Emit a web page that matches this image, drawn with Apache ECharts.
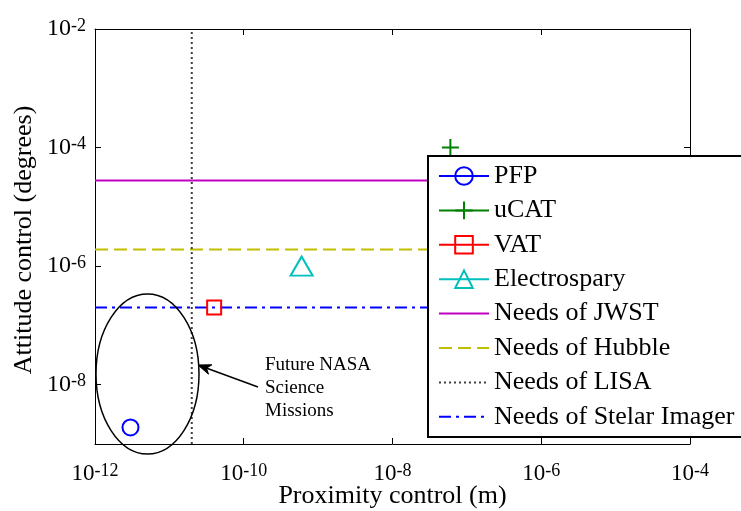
<!DOCTYPE html>
<html><head><meta charset="utf-8">
<script src="https://cdn.jsdelivr.net/npm/echarts@6/dist/echarts.min.js"></script>
<style>html,body{margin:0;padding:0;background:#fff}#c{width:741px;height:511px}</style>
</head><body><div id="c"></div>
<script>
// ---- data ----
const xRange = [1e-12, 1e-4];
const yRange = [1e-9, 1e-2];
const xLabelValues = [1e-12, 1e-10, 1e-8, 1e-6, 1e-4];
const xTickValues = [1e-10, 1e-8, 1e-6];
const yLabelValues = [1e-8, 1e-6, 1e-4, 1e-2];
const yTickValues = [1e-8, 1e-6, 1e-4];
const pointNames = ['PFP', 'uCAT', 'VAT', 'Electrospary'];
const pointX = [3e-12, 6e-8, 4e-11, 6e-10];
const pointY = [1.9e-9, 1e-4, 2e-7, 1e-6];
const needNames = ['Needs of JWST', 'Needs of Hubble', 'Needs of LISA', 'Needs of Stelar Imager'];
const jwstY = 2.78e-5;
const hubbleY = 1.9e-6;
const lisaX = 2e-11;
const stelarY = 2e-7;
const annotationLines = ['Future NASA', 'Science', 'Missions'];
const xTitle = 'Proximity control (m)';
const yTitle = 'Attitude control (degrees)';

// ---- styles ----
const FONT = "'Liberation Serif','Times New Roman',serif";
function supFmt(v) { const e = Math.round(Math.log10(v)); return '{b|10}{s|' + e + '}'; }
const richX = {
  b: {fontFamily: FONT, fontSize: 23, lineHeight: 23, verticalAlign: 'bottom', color: '#000'},
  s: {fontFamily: FONT, fontSize: 18, lineHeight: 18, padding: [0, 0, 13, 0], verticalAlign: 'top', color: '#000'}
};
const richY = {
  b: {fontFamily: FONT, fontSize: 24, lineHeight: 24, verticalAlign: 'bottom', color: '#000'},
  s: {fontFamily: FONT, fontSize: 18, lineHeight: 18, padding: [0, 0, 9, 0], verticalAlign: 'top', color: '#000'}
};
const axLine = {show: true, lineStyle: {color: '#000', width: 1}};

function xAx(pos, main) {
  return {
    type: 'log', logBase: 10, position: pos, min: xRange[0], max: xRange[1],
    axisLine: axLine,
    axisTick: {show: true, inside: true, length: 6, customValues: xTickValues, lineStyle: {color: '#000', width: 1}},
    minorTick: {show: false},
    axisLabel: main ? {show: true, customValues: xLabelValues, formatter: supFmt, margin: 18, rich: richX} : {show: false},
    splitLine: {show: false},
    name: main ? xTitle : '', nameLocation: 'middle', nameGap: 39, nameMoveOverlap: false,
    nameTextStyle: {fontFamily: FONT, fontSize: 26, color: '#000'}
  };
}
function yAx(pos, main) {
  return {
    type: 'log', logBase: 10, position: pos, min: yRange[0], max: yRange[1],
    axisLine: axLine,
    axisTick: {show: true, inside: true, length: 6, customValues: yTickValues, lineStyle: {color: '#000', width: 1}},
    minorTick: {show: false},
    axisLabel: main ? {show: true, customValues: yLabelValues, formatter: supFmt, margin: 9, rich: richY} : {show: false},
    splitLine: {show: false},
    name: main ? yTitle : '', nameLocation: 'middle', nameGap: 58, nameMoveOverlap: false,
    nameTextStyle: {fontFamily: FONT, fontSize: 26, color: '#000', padding: [0, 7, 0, 0]}
  };
}

const pointStyles = [
  {symbol: 'circle', size: 16, color: '#0000ff'},
  {symbol: 'path://M0,8H16M8,0V16', size: 17, color: '#008000'},
  {symbol: 'rect', size: 14, color: '#ff0000'},
  {symbol: 'triangle', size: [22, 19], color: '#00bfbf'}
];
const series = [];
pointNames.forEach((n, i) => {
  const st = pointStyles[i];
  series.push({
    name: n, type: 'line', data: [[pointX[i], pointY[i]]],
    symbol: st.symbol, symbolSize: st.size, showSymbol: true,
    itemStyle: {color: 'rgba(255,255,255,0)', borderColor: st.color, borderWidth: 2},
    lineStyle: {color: st.color, width: 2}, z: 3
  });
});
const needData = [
  [[xRange[0], jwstY], [xRange[1], jwstY]],
  [[xRange[0], hubbleY], [xRange[1], hubbleY]],
  [[lisaX, yRange[0]], [lisaX, yRange[1]]],
  [[xRange[0], stelarY], [xRange[1], stelarY]]
];
const needStyles = [
  {color: '#bf00bf', width: 2, type: 'solid'},
  {color: '#bfbf00', width: 2, type: [13, 6]},
  {color: '#404040', width: 2, type: [2, 3]},
  {color: '#0000ff', width: 2, type: [12, 5, 3, 5]}
];
needNames.forEach((n, i) => {
  series.push({
    name: n, type: 'line', data: needData[i], symbol: 'none',
    itemStyle: {color: 'rgba(0,0,0,0)', borderColor: 'rgba(0,0,0,0)', borderWidth: 0},
    lineStyle: needStyles[i], z: 2
  });
});

// arrow head (annotation)
const tip = [198, 365], tail = [258, 387];
const dx = tip[0] - tail[0], dy = tip[1] - tail[1], L = Math.hypot(dx, dy);
const ux = dx / L, uy = dy / L, hl = 13, hw = 5;
const head = [
  tip,
  [tip[0] - ux * hl - uy * hw, tip[1] - uy * hl + ux * hw],
  [tip[0] - ux * hl * 0.7, tip[1] - uy * hl * 0.7],
  [tip[0] - ux * hl + uy * hw, tip[1] - uy * hl - ux * hw]
];

const chart = echarts.init(document.getElementById('c'), null, {renderer: 'canvas'});
chart.setOption({
  animation: false,
  backgroundColor: '#fff',
  grid: {left: 95, top: 29, right: 51, bottom: 67, containLabel: false, outerBoundsMode: 'none'},
  xAxis: [xAx('bottom', true), xAx('top', false)],
  yAxis: [yAx('left', true), yAx('right', false)],
  legend: {
    orient: 'vertical', left: 428, top: 156, padding: [7, 30, 7, 10],
    itemWidth: 50, itemHeight: 22, itemGap: 8.4,
    backgroundColor: 'rgba(0,0,0,0)', borderWidth: 0,
    textStyle: {fontFamily: FONT, fontSize: 26, lineHeight: 26, color: '#000'},
    data: pointNames.concat(needNames), z: 10
  },
  graphic: [
    {type: 'rect', z: 8, shape: {x: 428, y: 156, width: 400, height: 281},
     style: {fill: '#fff', stroke: '#000', lineWidth: 2}},
    {type: 'ellipse', z: 5, shape: {cx: 147.5, cy: 374, rx: 51.5, ry: 80},
     style: {fill: 'none', stroke: '#000', lineWidth: 1.5}},
    {type: 'line', z: 5, shape: {x1: tail[0], y1: tail[1], x2: tip[0] - ux * 8, y2: tip[1] - uy * 8},
     style: {stroke: '#000', lineWidth: 1.5}},
    {type: 'polygon', z: 5, shape: {points: head}, style: {fill: '#000', stroke: '#000', lineWidth: 1}},
    {type: 'text', z: 5, left: 265, top: 354,
     style: {text: annotationLines.join('\n'), font: "19px 'Liberation Serif', serif", lineHeight: 23, fill: '#000'}}
  ],
  series: series
});
</script></body></html>
